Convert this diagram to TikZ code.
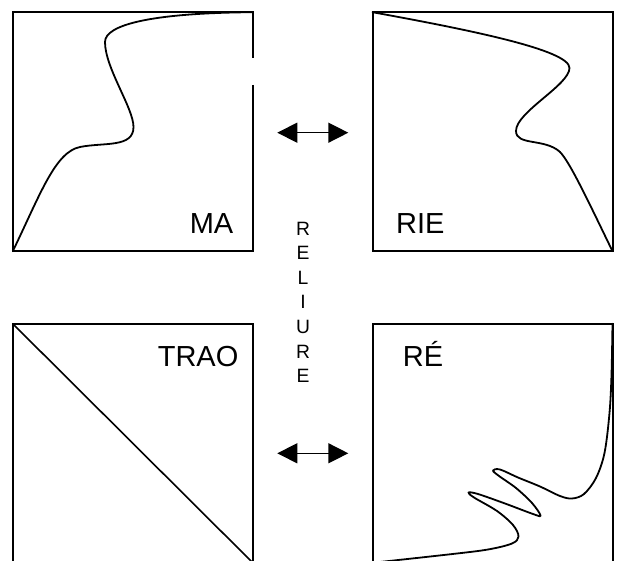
\documentclass[tikz,border=0pt]{standalone}
\usepackage{fontspec}
\setmainfont{Liberation Sans}
\usetikzlibrary{arrows.meta}
\begin{document}
\begin{tikzpicture}[x=1pt,y=-1pt,
  panel/.style={draw=black, line width=2pt, minimum width=240pt, minimum height=239pt, inner sep=0pt, outer sep=0pt},
  panelbare/.style={panel, draw=none},
  curve/.style={line width=1.8pt, line join=round, line cap=round},
  exchange/.style={line width=1.4pt, {Triangle[length=20pt,width=20pt]}-{Triangle[length=20pt,width=20pt]}},
  lbl/.style={font=\fontsize{29}{33}\selectfont, inner sep=0pt},
]
\useasboundingbox (0,0) rectangle (622,561);
\clip (0,0) rectangle (622,561);

% panels
\node[panelbare] (pMA) at (132.8,131.7) {};
\coordinate (gapA) at (252.8,58);
\coordinate (gapB) at (252.8,85);
\draw[line width=2pt] (gapB) -- (pMA.south east) -- (pMA.south west) -- (pMA.north west) -- (pMA.north east) -- (gapA);
\node[panel] (pRIE) at (492.5,131.7) {};
\node[panel] (pTRAO) at (132.8,443.3) {};
\node[panel] (pRE) at (492.5,443.3) {};

% curves
\draw[curve] (pMA.south west) .. controls (40,195) and (55,152) .. (80,147)
  .. controls (104,142.2) and (133.5,148) .. (133.5,127)
  .. controls (133.5,108) and (105,68) .. (105,42)
  .. controls (105,25) and (150,13) .. (pMA.north east);

\draw[curve] (pRIE.north west) .. controls (470,30) and (569.5,50) .. (569.5,68)
  .. controls (569.5,85) and (516,112) .. (516,131)
  .. controls (516,146) and (545,138) .. (560,152)
  .. controls (570,162) and (590,205) .. (pRIE.south east);

\draw[line width=1.6pt] (pTRAO.north west) -- (pTRAO.south east);

\draw[curve] plot[smooth, tension=0.55] coordinates {
  (pRE.north east) (611.5,375) (609.5,413) (604.5,453) (596,478) (584,494) (572,498.5)
  (560,496) (540,486.5) (518,477.5) (500,469.5) (493,470.5)
  (499,476) (516,488) (532,503) (540.5,515.5)
  (533,514) (505,503.5) (478,494) (468.5,492.5)
  (474,497.5) (497,511) (513,525) (518.5,536.5) (512,543.5)
  (488,549.5) (450,554.3) (pRE.south west)};

% labels
\node[lbl, anchor=base east] (tMA) at (233.5,233.3) {MA};
\node[lbl, anchor=base west] (tRIE) at (396,233.3) {RIE};
\node[lbl, anchor=base west] (tTRAO) at (157.6,366.7) {TRAO};
\node[lbl, anchor=base west] (tRE) at (402.7,366.7) {RÉ};

\node[font=\fontsize{19.3}{24.6}\selectfont, align=center, anchor=north, inner sep=0pt] (rel) at (303,221.7) {R\\E\\L\\I\\U\\R\\E};

% arrows
\coordinate (a1l) at (277.3,132.7);
\coordinate (a1r) at (348.3,132.7);
\coordinate (a2l) at (277.3,453.3);
\coordinate (a2r) at (348.3,453.3);
\draw[exchange] (a1l) -- (a1r);
\draw[exchange] (a2l) -- (a2r);
\end{tikzpicture}
\end{document}
